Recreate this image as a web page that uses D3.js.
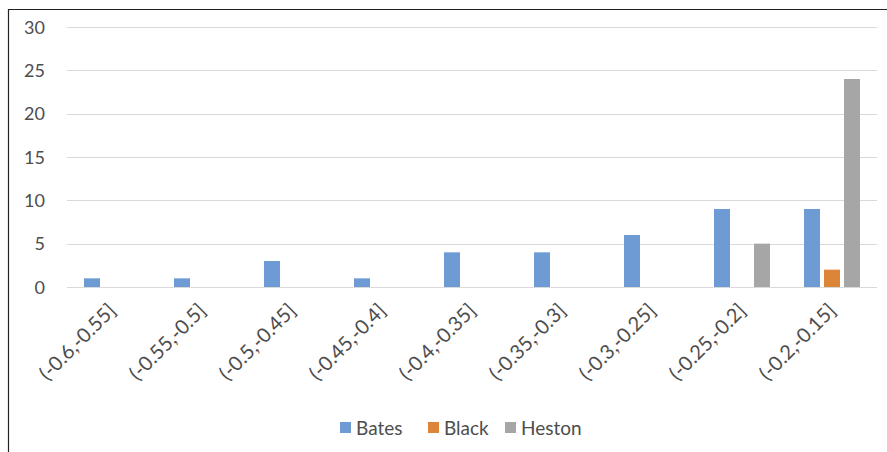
<!DOCTYPE html>
<html><head><meta charset="utf-8">
<script src="https://cdn.jsdelivr.net/npm/d3@7"></script>
<style>body{margin:0;background:#fff}svg{display:block}</style>
</head><body>
<script>
const categories = ["(-0.6,-0.55]","(-0.55,-0.5]","(-0.5,-0.45]","(-0.45,-0.4]","(-0.4,-0.35]","(-0.35,-0.3]","(-0.3,-0.25]","(-0.25,-0.2]","(-0.2,-0.15]"];
const seriesNames = ["Bates","Black","Heston"];
const bates  = [1,1,3,1,4,4,6,9,9];
const black  = [0,0,0,0,0,0,0,0,2];
const heston = [0,0,0,0,0,0,0,5,24];
const yTicks = [0,5,10,15,20,25,30];
const colors = ["#6F9BD5","#DC8538","#A6A6A6"];
const values = [bates, black, heston];

const W = 887, H = 452;
const svg = d3.select("body").append("svg").attr("width", W).attr("height", H);
const font = "Lato, 'Open Sans', sans-serif";
const textCol = "#4d4d4d";

// frame
svg.append("path").attr("d", `M8.5,${H} L8.5,9.5 L${W},9.5`).attr("fill","none").attr("stroke","#222").attr("stroke-width",1.2);

const x0 = d3.scaleBand().domain(categories).range([67, 877]);
const x1 = d3.scaleBand().domain(seriesNames).range([0, x0.bandwidth()]).paddingInner(0.2).paddingOuter(0.85);
const y = d3.scaleLinear().domain([0, 30]).range([287, 27]);

// gridlines
svg.append("g").selectAll("line").data(yTicks).join("line")
  .attr("x1", 67).attr("x2", 877)
  .attr("y1", d => Math.round(y(d)) + 0.5).attr("y2", d => Math.round(y(d)) + 0.5)
  .attr("stroke", "#D9D9D9").attr("stroke-width", 1);

// y axis labels
const yAxis = d3.axisLeft(y).tickValues(yTicks).tickSize(0).tickPadding(0);
const gy = svg.append("g").attr("transform", "translate(45,0)").call(yAxis);
gy.select(".domain").remove();
gy.selectAll("text").attr("font-family", font).attr("font-size", 18).attr("fill", textCol).attr("dy", "0.35em");

// bars
const rows = categories.map((c, i) => ({c, vals: seriesNames.map((s, j) => ({s, v: values[j][i], col: colors[j]}))}));
svg.append("g").selectAll("g").data(rows).join("g")
  .attr("transform", d => `translate(${x0(d.c)},0)`)
  .selectAll("rect").data(d => d.vals.filter(e => e.v > 0)).join("rect")
  .attr("x", d => x1(d.s)).attr("width", x1.bandwidth())
  .attr("y", d => y(d.v)).attr("height", d => y(0) - y(d.v))
  .attr("fill", d => d.col);

// x axis labels
const xAxis = d3.axisBottom(x0).tickSize(0).tickPadding(0);
const gx = svg.append("g").attr("transform", "translate(0,287)").call(xAxis);
gx.select(".domain").remove();
gx.selectAll("text")
  .attr("font-family", font).attr("font-size", 20).attr("fill", textCol)
  .attr("text-anchor", "end").attr("dy", null).attr("y", 0)
  .attr("transform", "translate(5,25) rotate(-45)");

// legend
const legendX = [340, 428, 505];
const lg = svg.append("g").selectAll("g").data(seriesNames).join("g")
  .attr("transform", (d, i) => `translate(${legendX[i]},422)`);
lg.append("rect").attr("width", 11).attr("height", 11).attr("fill", (d, i) => colors[i]);
lg.append("text").attr("x", 16).attr("y", 12.5).text(d => d)
  .attr("font-family", font).attr("font-size", 19).attr("fill", textCol);
</script>
</body></html>
